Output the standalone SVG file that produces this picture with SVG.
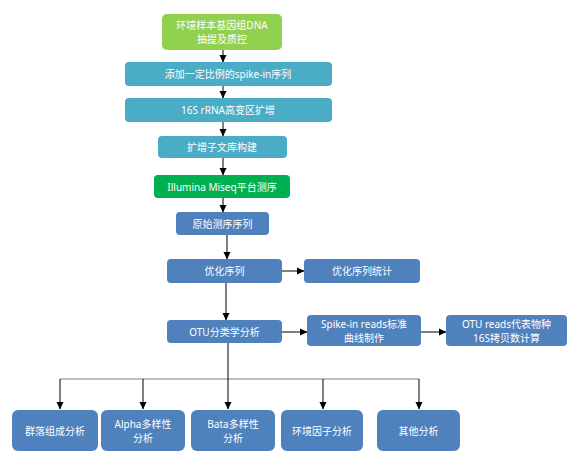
<svg xmlns="http://www.w3.org/2000/svg" width="576" height="463" viewBox="0 0 576 463">
<defs>
<marker id="ah" markerWidth="8" markerHeight="8" refX="7" refY="4" orient="auto" markerUnits="userSpaceOnUse">
<path d="M0,0.5 L7.5,4 L0,7.5 z" fill="#000"/>
</marker>
<style>
text{font-family:"Segoe UI","Noto Sans","Noto Sans CJK SC",sans-serif;font-size:10px;fill:#fff;text-anchor:middle;dominant-baseline:central}
.g1{fill:#92D050}
.g2{fill:#00B050}
.t{fill:#4BACC6}
.b{fill:#4F81BD}
.c{stroke:#000;stroke-width:1;fill:none}
.h{stroke:#7f7f7f;stroke-width:1;fill:none}
</style>
</defs>
<rect width="576" height="463" fill="#fff"/>
<g id="connectors">
<line class="c" x1="223" y1="50" x2="223" y2="62" marker-end="url(#ah)"/>
<line class="c" x1="223" y1="86" x2="223" y2="98" marker-end="url(#ah)"/>
<line class="c" x1="223" y1="122" x2="223" y2="136" marker-end="url(#ah)"/>
<line class="c" x1="223" y1="158" x2="223" y2="175" marker-end="url(#ah)"/>
<line class="c" x1="223" y1="198" x2="223" y2="212" marker-end="url(#ah)"/>
<line class="c" x1="227" y1="235" x2="227" y2="259" marker-end="url(#ah)"/>
<line class="c" x1="282" y1="271" x2="304" y2="271" marker-end="url(#ah)"/>
<line class="c" x1="226" y1="283" x2="226" y2="320" marker-end="url(#ah)"/>
<line class="c" x1="282" y1="332" x2="307" y2="332" marker-end="url(#ah)"/>
<line class="c" x1="421" y1="332" x2="446" y2="332" marker-end="url(#ah)"/>
<line class="h" x1="60" y1="379" x2="419" y2="379"/>
<line class="c" x1="228" y1="343" x2="228" y2="409" marker-end="url(#ah)"/>
<line class="c" x1="60" y1="379" x2="60" y2="409" marker-end="url(#ah)"/>
<line class="c" x1="143" y1="379" x2="143" y2="409" marker-end="url(#ah)"/>
<line class="c" x1="323" y1="379" x2="323" y2="409" marker-end="url(#ah)"/>
<line class="c" x1="419" y1="379" x2="419" y2="409" marker-end="url(#ah)"/>
</g>
<g id="n1"><rect class="g1" x="162" y="14" width="120" height="36" rx="5"/><text x="222" y="25">环境样本基因组DNA</text><text x="222" y="39">抽提及质控</text></g>
<g id="n2"><rect class="t" x="125" y="62" width="207" height="24" rx="4"/><text x="228" y="74">添加一定比例的spike-in序列</text></g>
<g id="n3"><rect class="t" x="125" y="98" width="207" height="24" rx="4"/><text x="228" y="110">16S rRNA高变区扩增</text></g>
<g id="n4"><rect class="t" x="158" y="136" width="129" height="22" rx="4"/><text x="222" y="147">扩增子文库构建</text></g>
<g id="n5"><rect class="g2" x="154" y="175" width="136" height="23" rx="4"/><text x="222" y="186.5">Illumina Miseq平台测序</text></g>
<g id="n6"><rect class="b" x="176" y="212" width="93" height="23" rx="4"/><text x="222.5" y="223.5">原始测序序列</text></g>
<g id="n7"><rect class="b" x="167" y="259" width="115" height="24" rx="4"/><text x="224.5" y="271">优化序列</text></g>
<g id="n8"><rect class="b" x="304" y="259" width="116" height="24" rx="4"/><text x="362" y="271">优化序列统计</text></g>
<g id="n9"><rect class="b" x="167" y="320" width="115" height="23" rx="4"/><text x="224.5" y="331.5">OTU分类学分析</text></g>
<g id="n10"><rect class="b" x="307" y="315" width="114" height="31" rx="4"/><text x="364" y="324">Spike-in reads标准</text><text x="364" y="338">曲线制作</text></g>
<g id="n11"><rect class="b" x="446" y="315" width="121" height="31" rx="4"/><text x="506.5" y="324">OTU reads代表物种</text><text x="506.5" y="338">16S拷贝数计算</text></g>
<g id="n12"><rect class="b" x="12" y="410" width="86" height="41" rx="6"/><text x="55" y="431">群落组成分析</text></g>
<g id="n13"><rect class="b" x="101" y="410" width="84" height="41" rx="6"/><text x="143" y="424">Alpha多样性</text><text x="143" y="438">分析</text></g>
<g id="n14"><rect class="b" x="191" y="410" width="84" height="41" rx="6"/><text x="233" y="424">Bata多样性</text><text x="233" y="438">分析</text></g>
<g id="n15"><rect class="b" x="281" y="410" width="82" height="41" rx="6"/><text x="322" y="431">环境因子分析</text></g>
<g id="n16"><rect class="b" x="377" y="410" width="83" height="41" rx="6"/><text x="418.5" y="431">其他分析</text></g>
</svg>
